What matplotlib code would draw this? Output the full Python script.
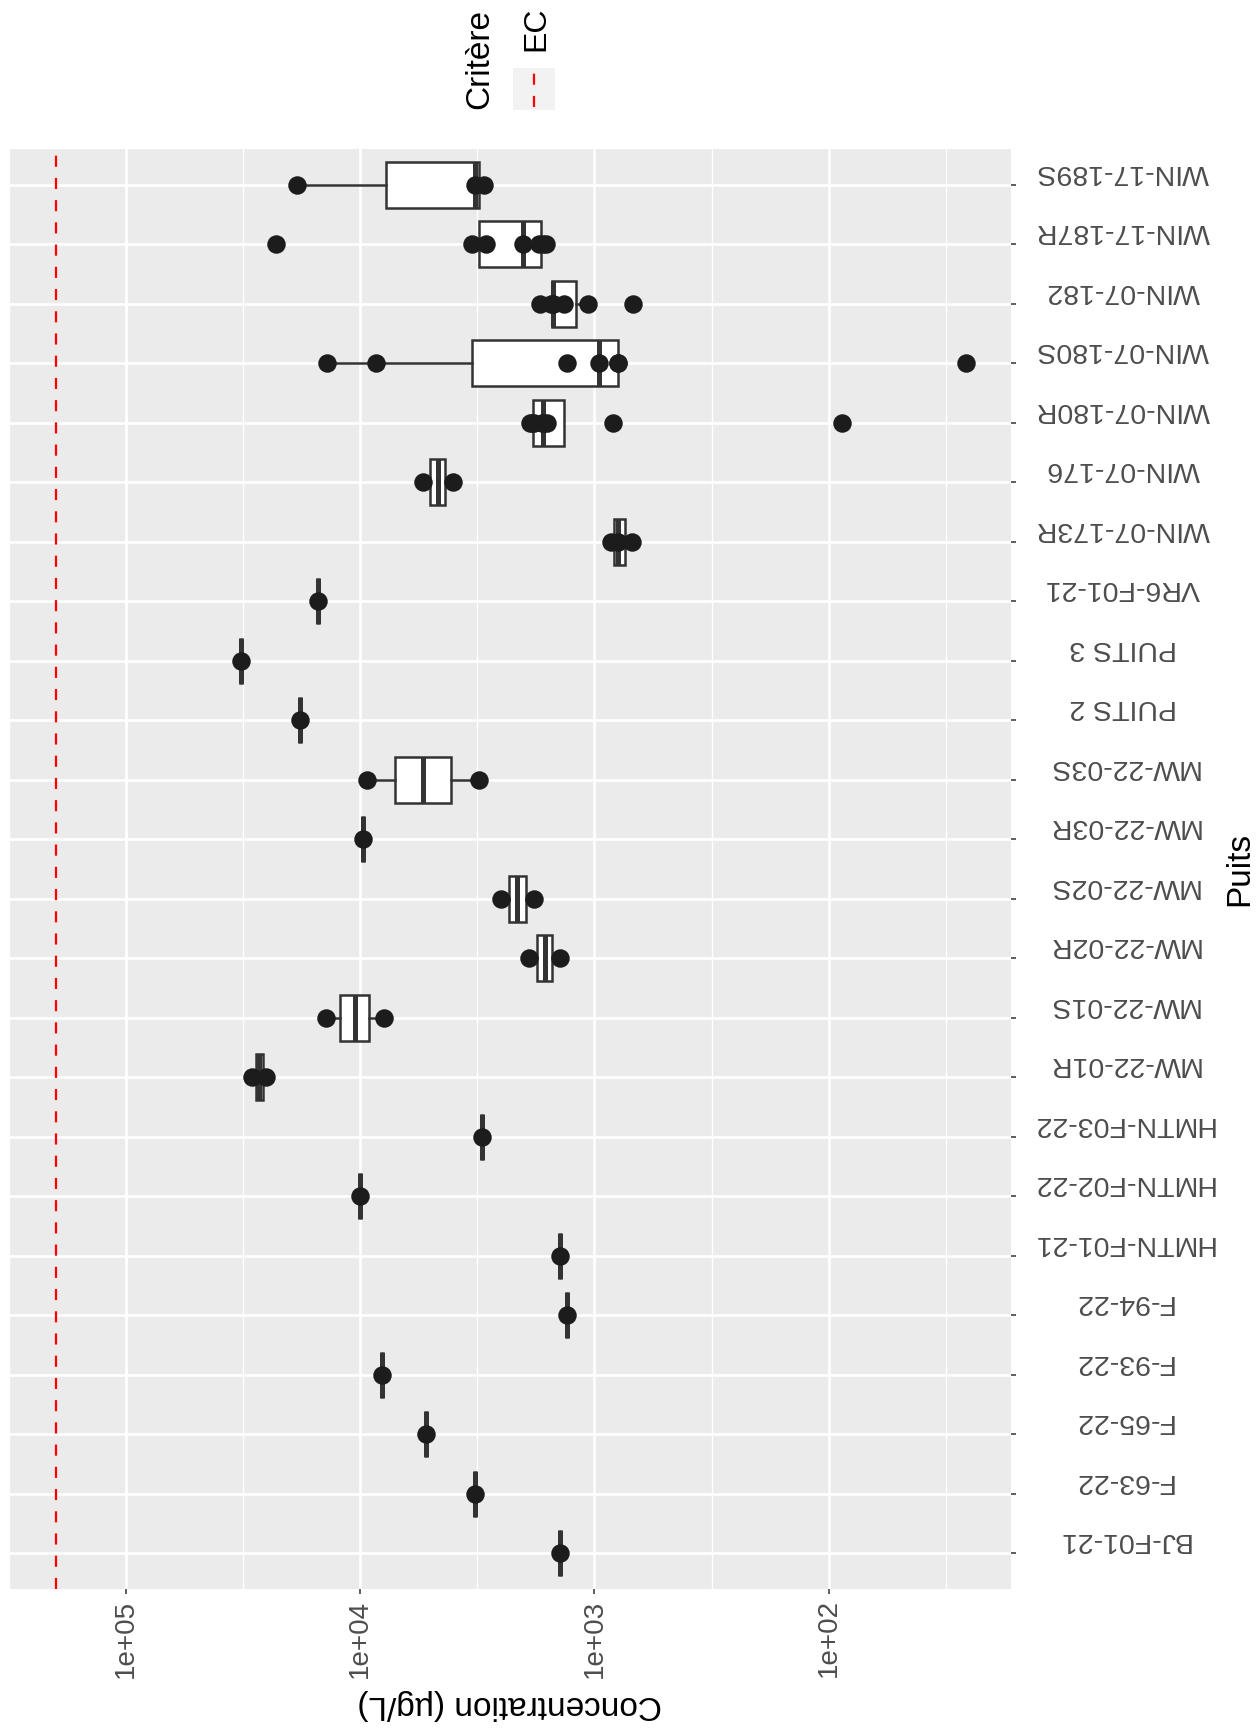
import numpy as np
import matplotlib.pyplot as plt
from matplotlib import cbook
from matplotlib.lines import Line2D
from matplotlib.patches import Rectangle
from matplotlib.ticker import NullFormatter

plt.rcParams['font.family'] = ['Liberation Sans', 'DejaVu Sans']

# puits (du bas vers le haut) et concentrations mesurées en µg/L
puits = ["BJ-F01-21", "F-63-22", "F-65-22", "F-93-22", "F-94-22",
         "HMTN-F01-21", "HMTN-F02-22", "HMTN-F03-22",
         "MW-22-01R", "MW-22-01S", "MW-22-02R", "MW-22-02S",
         "MW-22-03R", "MW-22-03S", "PUITS 2", "PUITS 3", "VR6-F01-21",
         "WIN-07-173R", "WIN-07-176", "WIN-07-180R", "WIN-07-180S",
         "WIN-07-182", "WIN-17-187R", "WIN-17-189S"]
concentrations = [
    [1406], [3221], [5224], [8054], [1306],
    [1403], [10070], [3006],
    [28910, 25230], [14030, 7943], [1901, 1403], [2512, 1807],
    [9772], [9354, 3126], [18110], [32210], [15100],
    [853, 793, 692], [5408, 4018],
    [88, 830, 1592, 1641, 1679, 1820, 1841, 1884],
    [26, 791, 791, 953, 1309, 8551, 13930],
    [682, 1067, 1349, 1496, 1507, 1535, 1702],
    [1614, 1660, 1722, 2009, 2897, 3334, 22960],
    [2965, 3236, 18540],
]
critere_ec = 200000  # EC

W, H = 1257, 1732
fig = plt.figure(figsize=(W / 100, H / 100), dpi=100)
ax = fig.add_axes([9 / W, 1 - 1589 / H, (1011 - 9) / W, (1589 - 149) / H])
ax.set_facecolor('#EBEBEB')
for s in ax.spines.values():
    s.set_visible(False)

pos = np.arange(len(puits))

# stats des boîtes calculées sur log10 (comme scale_y_log10)
stats = []
for vals in concentrations:
    st = cbook.boxplot_stats(np.log10(vals), whis=1.5)[0]
    for k in ("med", "q1", "q3", "whislo", "whishi"):
        st[k] = 10 ** st[k]
    st["fliers"] = []
    stats.append(st)

ax.bxp(stats, positions=pos, widths=0.77, orientation='horizontal',
       patch_artist=True, showcaps=False, showfliers=False,
       boxprops=dict(facecolor='white', edgecolor='#333333', linewidth=1.8),
       medianprops=dict(color='#333333', linewidth=3.6, solid_capstyle='butt'),
       whiskerprops=dict(color='#333333', linewidth=1.8), zorder=3)

for p, vals in zip(pos, concentrations):
    ax.scatter(vals, [p] * len(vals), s=177, color='#1c1c1c', linewidths=0, zorder=4)

ax.axvline(critere_ec, color='red', lw=1.6, dashes=(5, 5), zorder=2)

ax.set_xscale('log')
ax.set_xlim(10 ** 5.496, 10 ** 1.221)
ax.set_ylim(-0.6, len(puits) - 0.4)

ax.set_xticks([1e5, 1e4, 1e3, 1e2], labels=['1e+05', '1e+04', '1e+03', '1e+02'])
ax.set_xticks([10 ** 5.5, 10 ** 4.5, 10 ** 3.5, 10 ** 2.5, 10 ** 1.5], minor=True)
ax.xaxis.set_minor_formatter(NullFormatter())
ax.tick_params(axis='x', which='minor', length=0)
ax.tick_params(axis='x', which='major', length=3.5, width=1.1, color='#333333',
               labelcolor='#4D4D4D', labelsize=20, labelrotation=90, pad=4)

ax.set_yticks(pos, labels=puits)
ax.tick_params(axis='y', left=False, right=True, labelleft=False, labelright=True,
               length=3.5, width=1.1, color='#333333', labelcolor='#4D4D4D',
               labelsize=20.5, labelrotation=180, pad=77)
for t in ax.get_yticklabels():
    t.set_rotation_mode('anchor')
    t.set_ha('center')
    t.set_va('top')

ax.grid(which='major', color='white', lw=1.9)
ax.grid(which='minor', axis='x', color='white', lw=1.0)
ax.set_axisbelow(True)

ax.set_xlabel('Concentration (µg/L)', fontsize=24, rotation=180, labelpad=8)
ax.yaxis.set_label_position('right')
ax.set_ylabel('Puits', fontsize=24, rotation=90)
ax.yaxis.label.set_rotation_mode('default')
ax.yaxis.label.set_va('center')
ax.yaxis.label.set_ha('center')
ax.yaxis.set_label_coords((1240 - 9) / (1011 - 9), 0.5)

# légende (tournée comme le reste)
fig.text(480 / W, 1 - 59 / H, 'Critère', rotation=90, ha='center', va='center', fontsize=24)
fig.text(536 / W, 1 - 29 / H, 'EC', rotation=90, ha='center', va='center', fontsize=23)
fig.add_artist(Rectangle((513 / W, 1 - 110 / H), 42 / W, 42 / H, transform=fig.transFigure,
                         facecolor='#F2F2F2', edgecolor='none'))
fig.add_artist(Line2D([534 / W, 534 / W], [1 - 107 / H, 1 - 72 / H], transform=fig.transFigure,
                      color='red', lw=1.6, dashes=(5, 5)))

fig.savefig('out.png', dpi=100)
